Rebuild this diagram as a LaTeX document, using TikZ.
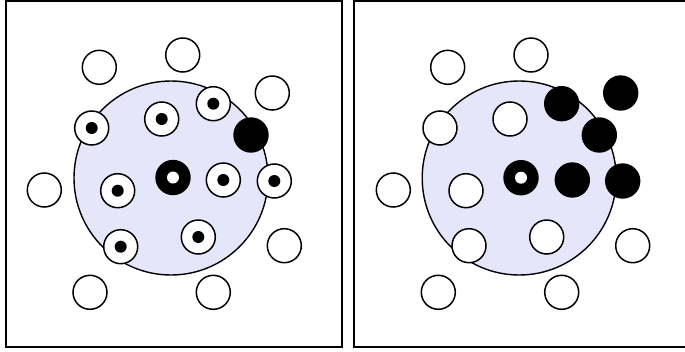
\documentclass[tikz,border=0pt]{standalone}
\begin{document}
\begin{tikzpicture}[x=1pt,y=-1pt,
  frame/.style={draw=black,line width=2pt},
  region/.style={circle,draw=black,line width=1.4pt,fill=lavfill,inner sep=0pt,minimum size=194pt},
  emptyc/.style={circle,draw=black,line width=1.5pt,fill=white,inner sep=0pt,minimum size=34pt},
  dotc/.style={emptyc,path picture={\fill[black] (path picture bounding box.center) circle (6pt);}},
  fullc/.style={circle,fill=black,inner sep=0pt,minimum size=35.4pt},
  ringc/.style={circle,fill=black,inner sep=0pt,minimum size=35.4pt,path picture={\fill[white] (path picture bounding box.center) circle (6pt);}}
]
\definecolor{lavfill}{RGB}{230,230,250}
\useasboundingbox (0,0) rectangle (685,351);
% frames
\draw[frame] (6,1) rectangle (342,347);
\draw[frame] (354,1) rectangle (690,347);
% left panel
\node[region] (La) at (171,178) {};
\node[emptyc] (L1) at (99.3,67.3) {};
\node[emptyc] (L2) at (182.7,55) {};
\node[emptyc] (L3) at (272.3,93) {};
\node[emptyc] (L4) at (44.3,190) {};
\node[emptyc] (L5) at (284.3,245.7) {};
\node[emptyc] (L6) at (90,292.3) {};
\node[emptyc] (L7) at (213.3,292.3) {};
\node[dotc] (L8) at (91.7,128) {};
\node[dotc] (L9) at (161.7,119) {};
\node[dotc] (L10) at (213.3,103.7) {};
\node[dotc] (L11) at (117.7,190.7) {};
\node[dotc] (L12) at (223.3,180) {};
\node[dotc] (L13) at (274.3,181) {};
\node[dotc] (L14) at (120.7,246.7) {};
\node[dotc] (L15) at (198.3,237) {};
\node[fullc] (L16) at (251,135) {};
\node[ringc] (L0) at (173,177.5) {};
% right panel
\node[region] (Ra) at (519.2,178) {};
\node[emptyc] (R1) at (447.7,67.3) {};
\node[emptyc] (R2) at (531,55) {};
\node[emptyc] (R4) at (393.3,190) {};
\node[emptyc] (R5) at (632.7,245.7) {};
\node[emptyc] (R6) at (438.3,292.3) {};
\node[emptyc] (R7) at (561.7,292.3) {};
\node[emptyc] (R8) at (440,128) {};
\node[emptyc] (R9) at (510,119) {};
\node[emptyc] (R11) at (466,190.7) {};
\node[emptyc] (R14) at (469,245.7) {};
\node[emptyc] (R15) at (546.7,237) {};
\node[fullc] (R10) at (561.7,103.7) {};
\node[fullc] (R3) at (620.7,93) {};
\node[fullc] (R16) at (599.3,135) {};
\node[fullc] (R12) at (572.3,180) {};
\node[fullc] (R13) at (622.7,181) {};
\node[ringc] (R0) at (521,177.7) {};
\end{tikzpicture}
\end{document}
